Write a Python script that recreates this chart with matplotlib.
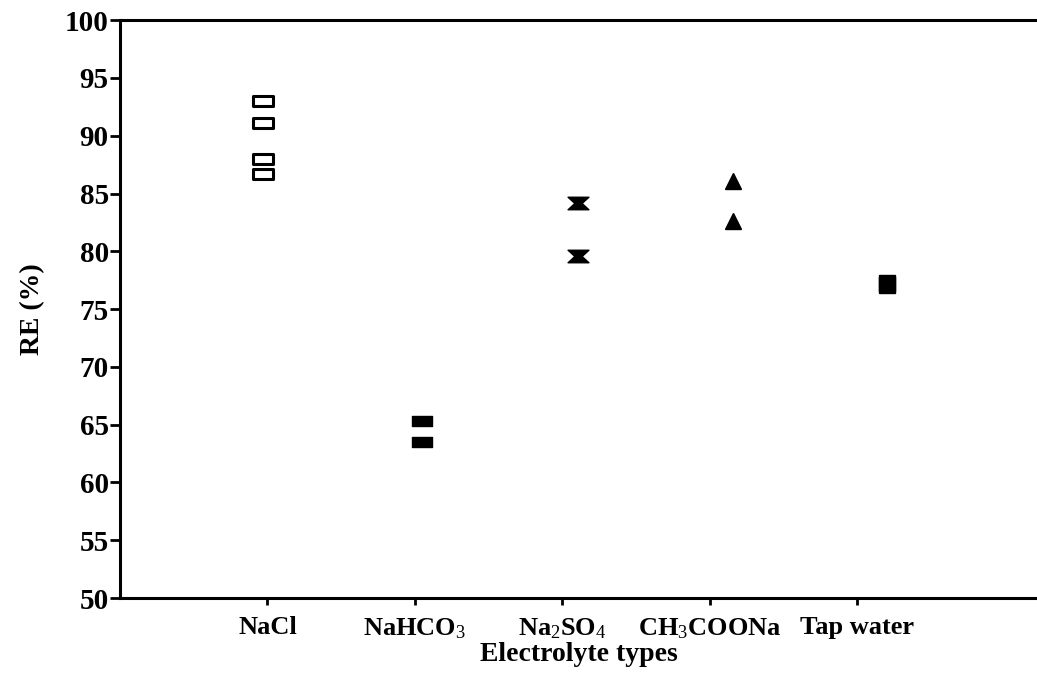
import matplotlib
matplotlib.use('Agg')
from matplotlib import pyplot as plt
from matplotlib.path import Path

# category labels on the x axis
categories = ['NaCl', r'NaHCO$_3$', r'Na$_2$SO$_4$', r'CH$_3$COONa', 'Tap water']
# where the points sit (they drift right of the ticks in the original)
x_pos = [0.97, 2.05, 3.11, 4.16, 5.2]

# RE (%)
re_nacl = [93.0, 91.1, 88.0, 86.7]
re_nahco3 = [65.3, 63.5]
re_na2so4 = [84.2, 79.6]
re_ch3coona = [86.1, 82.6]
re_tap = [77.3, 77.1]

plt.rcParams['font.family'] = ['Liberation Serif', 'DejaVu Serif']
plt.rcParams['mathtext.fontset'] = 'custom'
plt.rcParams['mathtext.rm'] = 'Liberation Serif'
plt.rcParams['mathtext.it'] = 'Liberation Serif'
plt.rcParams['mathtext.default'] = 'rm'

# wide rectangle marker
rect = Path([(-1, -0.5), (1, -0.5), (1, 0.5), (-1, 0.5), (-1, -0.5)],
            [Path.MOVETO, Path.LINETO, Path.LINETO, Path.LINETO, Path.CLOSEPOLY])
# hourglass marker (wide top and bottom, pinched middle)
hourglass = Path([(-1, 0.6), (1, 0.6), (0.35, 0), (1, -0.6), (-1, -0.6), (-0.35, 0), (-1, 0.6)],
                 [Path.MOVETO] + [Path.LINETO] * 5 + [Path.CLOSEPOLY])

fig = plt.figure(figsize=(10.37, 6.73), dpi=100)
ax = fig.add_axes([0.1157, 0.1114, 0.8843, 0.8586])

ax.plot([x_pos[0]] * len(re_nacl), re_nacl, linestyle='none', marker=rect,
        markersize=14, markerfacecolor='white', markeredgecolor='black', markeredgewidth=2.2)
ax.plot([x_pos[1]] * len(re_nahco3), re_nahco3, linestyle='none', marker=rect,
        markersize=14, color='black')
ax.plot([x_pos[2]] * len(re_na2so4), re_na2so4, linestyle='none', marker=hourglass,
        markersize=15, color='black')
ax.plot([x_pos[3]] * len(re_ch3coona), re_ch3coona, linestyle='none', marker='^',
        markersize=11, color='black')
ax.plot([x_pos[4]] * len(re_tap), re_tap, linestyle='none', marker='s',
        markersize=12, color='black')

ax.set_xlim(0, 6.22)
ax.set_ylim(50, 100)
ax.set_yticks(range(50, 101, 5))
ax.set_xticks(range(1, len(categories) + 1))
ax.set_xticklabels(categories, fontsize=19, fontweight='bold')
for lab in ax.get_yticklabels():
    lab.set_fontsize(21)
    lab.set_fontweight('bold')

ax.spines['right'].set_visible(False)
for s in ['left', 'bottom', 'top']:
    ax.spines[s].set_linewidth(2.2)
ax.tick_params(axis='y', direction='out', length=7, width=2, pad=1)
ax.tick_params(axis='x', direction='out', length=5, width=2, pad=8)

ax.set_ylabel('RE (%)', fontsize=20, fontweight='bold', labelpad=14)
ax.set_xlabel('Electrolyte types', fontsize=20, fontweight='bold', labelpad=1)

fig.savefig('out.png', dpi=100)
